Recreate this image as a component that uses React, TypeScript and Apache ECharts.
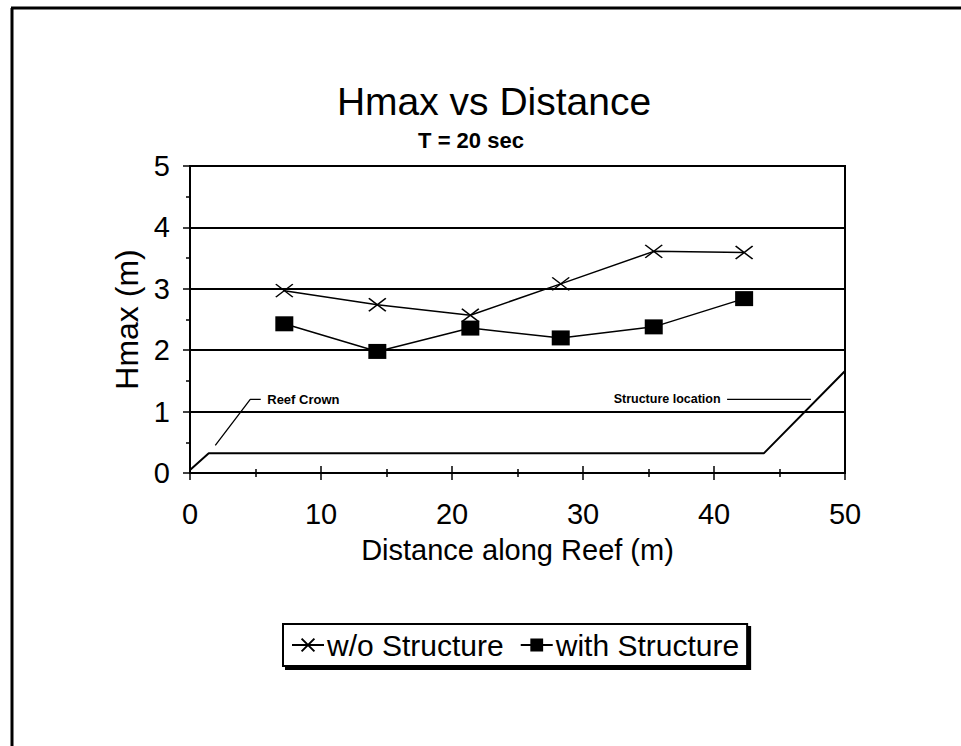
import React, { useEffect, useRef } from "react";
import * as echarts from "echarts";

const distance = [7.2, 14.3, 21.4, 28.3, 35.4, 42.3];
const hmaxWithout = [2.97, 2.74, 2.57, 3.08, 3.61, 3.59];
const hmaxWith = [2.43, 1.98, 2.36, 2.2, 2.38, 2.84];

const reefProfileX = [0, 1.43, 43.8, 50];
const reefProfileY = [0.05, 0.32, 0.32, 1.66];

const reefCrownLeaderX = [1.93, 4.6, 5.4];
const reefCrownLeaderY = [0.45, 1.2, 1.2];
const structureLeaderX = [41.0, 47.4];
const structureLeaderY = [1.2, 1.2];

const seriesNames = ["w/o Structure", "with Structure"];
const titleText = "Hmax vs Distance";
const subtitleText = "T = 20 sec";
const xAxisName = "Distance along Reef (m)";
const yAxisName = "Hmax (m)";
const reefCrownText = "Reef Crown";
const structureText = "Structure location";

const FONT = "'Liberation Sans', Arial, sans-serif";
const X_MARK = "path://M0,0L10,10M10,0L0,10";

export default function App() {
  const ref = useRef<HTMLDivElement>(null);

  useEffect(() => {
    document.body.style.margin = "0";
    if (!ref.current) return;
    const chart = echarts.init(ref.current, null, { renderer: "svg" });

    const zip = (xs: number[], ys: number[]) => xs.map((x, i) => [x, ys[i]]);

    const reefCrownData: any[] = zip(reefCrownLeaderX, reefCrownLeaderY).map((p, i, arr) =>
      i === arr.length - 1
        ? {
            value: p,
            label: {
              show: true,
              position: "right",
              distance: 6,
              formatter: reefCrownText,
              color: "#000",
              fontFamily: FONT,
              fontWeight: "bold",
              fontSize: 13,
            },
          }
        : { value: p }
    );
    const structureData: any[] = zip(structureLeaderX, structureLeaderY).map((p, i) =>
      i === 0
        ? {
            value: p,
            label: {
              show: true,
              position: "left",
              distance: 6,
              formatter: structureText,
              color: "#000",
              fontFamily: FONT,
              fontWeight: "bold",
              fontSize: 12.5,
            },
          }
        : { value: p }
    );

    const helperLine = (name: string, data: any[]) => ({
      name,
      type: "line",
      data,
      symbol: "circle",
      symbolSize: 1,
      itemStyle: { color: "transparent" },
      lineStyle: { color: "#000", width: 1.3 },
      silent: true,
      z: 2,
    });

    chart.setOption({
      animation: false,
      backgroundColor: "#fff",
      textStyle: { fontFamily: FONT, color: "#000" },
      graphic: [
        {
          type: "line",
          shape: { x1: 11, y1: 8, x2: 961, y2: 8 },
          style: { stroke: "#000", lineWidth: 3 },
        },
        {
          type: "line",
          shape: { x1: 12, y1: 8, x2: 12, y2: 746 },
          style: { stroke: "#000", lineWidth: 3 },
        },
        {
          type: "text",
          x: 494,
          y: 101,
          style: {
            text: titleText,
            fontFamily: FONT,
            fontSize: 39,
            fill: "#000",
            textAlign: "center",
            textVerticalAlign: "middle",
          },
        },
        {
          type: "text",
          x: 471,
          y: 140,
          style: {
            text: subtitleText,
            fontFamily: FONT,
            fontSize: 22,
            fontWeight: "bold",
            fill: "#000",
            textAlign: "center",
            textVerticalAlign: "middle",
          },
        },
      ],
      grid: {
        left: 190,
        right: 116,
        top: 166,
        bottom: 273,
        show: true,
        borderColor: "#000",
        borderWidth: 2,
        backgroundColor: "transparent",
      },
      legend: {
        data: seriesNames,
        left: 283,
        top: 624,
        orient: "horizontal",
        padding: [6, 8, 6, 8],
        itemGap: 16,
        itemWidth: 32,
        itemHeight: 16,
        borderColor: "#000",
        borderWidth: 2,
        backgroundColor: "#fff",
        shadowColor: "#000",
        shadowBlur: 0,
        shadowOffsetX: 3,
        shadowOffsetY: 3,
        textStyle: { fontFamily: FONT, fontSize: 30, color: "#000", padding: [0, 0, 0, -2] },
      },
      xAxis: [
        {
          type: "value",
          min: 0,
          max: 50,
          interval: 10,
          name: xAxisName,
          nameLocation: "middle",
          nameGap: 62,
          nameTextStyle: { fontFamily: FONT, fontSize: 29, color: "#000" },
          axisLine: { show: true, onZero: false, lineStyle: { color: "#000", width: 2 } },
          axisTick: { show: true, length: 7, lineStyle: { color: "#000", width: 1.5 } },
          minorTick: { show: true, splitNumber: 2, length: 4, lineStyle: { color: "#000", width: 1.5 } },
          axisLabel: { fontFamily: FONT, fontSize: 29, color: "#000", margin: 26 },
          splitLine: { show: false },
        },
        {
          type: "value",
          min: 0,
          max: 50,
          interval: 10,
          position: "bottom",
          axisLine: { show: false },
          axisTick: { show: true, inside: true, length: 7, lineStyle: { color: "#000", width: 1.5 } },
          minorTick: { show: true, splitNumber: 2, length: 4, lineStyle: { color: "#000", width: 1.5 } },
          axisLabel: { show: false },
          splitLine: { show: false },
        },
      ],
      yAxis: {
        type: "value",
        min: 0,
        max: 5,
        interval: 1,
        name: yAxisName,
        nameLocation: "middle",
        nameGap: 42,
        nameRotate: 90,
        nameTextStyle: { fontFamily: FONT, fontSize: 32, color: "#000" },
        axisLine: { show: true, onZero: false, lineStyle: { color: "#000", width: 2 } },
        axisTick: { show: true, length: 7, lineStyle: { color: "#000", width: 1.5 } },
        minorTick: { show: true, splitNumber: 2, length: 4, lineStyle: { color: "#000", width: 1.5 } },
        axisLabel: { fontFamily: FONT, fontSize: 29, color: "#000", margin: 20 },
        splitLine: { show: true, lineStyle: { color: "#000", width: 2 } },
      },
      series: [
        {
          name: seriesNames[0],
          type: "line",
          data: zip(distance, hmaxWithout),
          symbol: X_MARK,
          symbolSize: [17, 13],
          itemStyle: { color: "transparent", borderColor: "#000", borderWidth: 1.5 },
          lineStyle: { color: "#000", width: 1.5 },
          z: 4,
        },
        {
          name: seriesNames[1],
          type: "line",
          data: zip(distance, hmaxWith),
          symbol: "rect",
          symbolSize: [18, 15],
          itemStyle: { color: "#000" },
          lineStyle: { color: "#000", width: 1.5 },
          z: 4,
        },
        {
          name: "reef profile",
          type: "line",
          data: zip(reefProfileX, reefProfileY),
          symbol: "none",
          lineStyle: { color: "#000", width: 2 },
          silent: true,
          z: 2,
        },
        helperLine("reef crown leader", reefCrownData),
        helperLine("structure leader", structureData),
      ],
    });

    return () => chart.dispose();
  }, []);

  return <div ref={ref} style={{ width: 961, height: 746 }} />;
}
